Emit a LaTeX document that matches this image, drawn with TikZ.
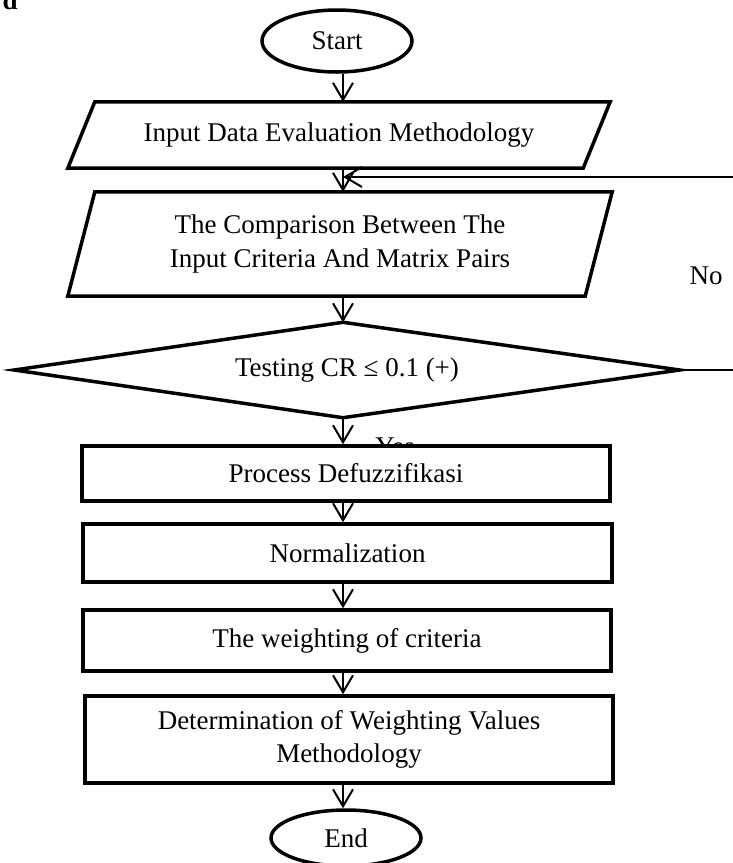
\documentclass[tikz,border=0pt]{standalone}
\usepackage{fontspec}
\setmainfont{Liberation Serif}
\usetikzlibrary{arrows.meta,shapes.geometric}
\begin{document}
\begin{tikzpicture}[x=1pt,y=-1pt,
  every node/.style={font=\fontsize{27}{33.5}\selectfont},
  box/.style={draw=black, line width=3.5pt, fill=white, inner sep=0pt, align=center},
  ghost/.style={draw=none, inner sep=0pt, align=center},
  oval/.style={ellipse, draw=black, line width=3.5pt, fill=white, inner sep=0pt},
  outline/.style={line width=3.5pt},
  arr/.style={line width=2pt, -{Straight Barb[length=17pt,width=20pt]}}
]
\useasboundingbox (0,0) rectangle (733,863);

\node[anchor=base west, font=\bfseries\fontsize{27}{30}\selectfont] (dd) at (-1,9) {d};

\node[oval, minimum width=150pt, minimum height=62pt] (start) at (337,41) {Start};

\node[ghost, minimum width=542pt, minimum height=66pt] (p1) at (339,135) {Input Data Evaluation Methodology};
\draw[outline] ([xshift=27pt]p1.north west) -- (p1.north east) -- ([xshift=-27pt]p1.south east) -- (p1.south west) -- cycle;

\node[ghost, minimum width=544pt, minimum height=104pt] (p2) at (340,244) {The Comparison Between The\\Input Criteria And Matrix Pairs};
\draw[outline] ([xshift=27pt]p2.north west) -- (p2.north east) -- ([xshift=-27pt]p2.south east) -- (p2.south west) -- cycle;

\node[ghost, minimum width=665pt, minimum height=95pt] (dec) at (347,370) {Testing CR ≤ 0.1 (+)};
\draw[outline] (dec.north -| 343,0) -- (dec.east) -- (dec.south -| 343,0) -- (dec.west) -- cycle;

\node (yes) at (395,447) {Yes};
\node[anchor=base] (no) at (706,284) {No};

\node[box, minimum width=528pt, minimum height=55pt] (b1) at (346,473.5) {Process Defuzzifikasi};
\node[box, minimum width=529pt, minimum height=58pt] (b2) at (347.5,553) {Normalization};
\node[box, minimum width=528pt, minimum height=61pt] (b3) at (347,640.5) {The weighting of criteria};
\node[box, minimum width=528pt, minimum height=87pt] (b4) at (349,739.5) {Determination of Weighting Values\\Methodology};

\node[oval, minimum width=150pt, minimum height=56pt] (end) at (346,838) {End};

\coordinate (ax) at (343,0);
\coordinate (fbR) at (740,370);
\coordinate (fbT) at (740,177);
\coordinate (merge) at (343,177);

\draw[arr] (start.south -| ax) -- (p1.north -| ax);
\draw[arr] (p1.south -| ax) -- (p2.north -| ax);
\draw[arr] (p2.south -| ax) -- (dec.north -| ax);
\draw[arr] (dec.south -| ax) -- (b1.north -| ax);
\draw[arr] (b1.south -| ax) -- (b2.north -| ax);
\draw[arr] (b2.south -| ax) -- (b3.north -| ax);
\draw[arr] (b3.south -| ax) -- (b4.north -| ax);
\draw[arr] (b4.south -| ax) -- (end.north -| ax);
\draw[arr] (dec.east) -- (fbR) -- (fbT) -- (merge);
\end{tikzpicture}
\end{document}
